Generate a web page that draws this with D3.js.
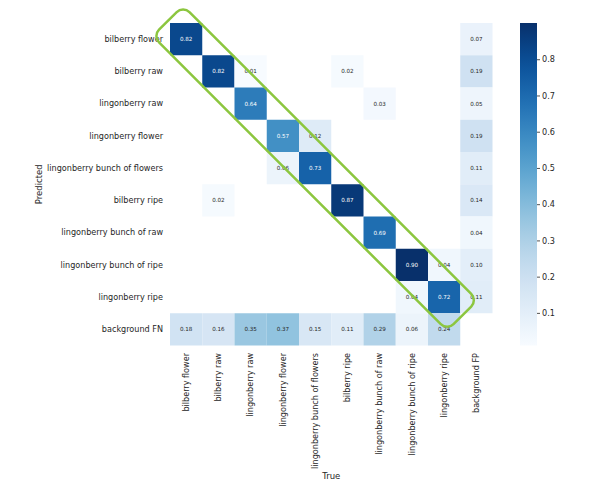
<!DOCTYPE html>
<html>
<head>
<meta charset="utf-8">
<script src="https://cdn.jsdelivr.net/npm/d3@7"></script>
<style>
  html, body { margin: 0; padding: 0; background: #fff; }
  svg { display: block; font-family: "DejaVu Sans", sans-serif; }
</style>
</head>
<body>
<svg id="chart" width="602" height="491"></svg>
<script>
// ---- data ----
const trueLabels = ["bilberry flower", "bilberry raw", "lingonberry raw", "lingonberry flower",
  "lingonberry bunch of flowers", "bilberry ripe", "lingonberry bunch of raw",
  "lingonberry bunch of ripe", "lingonberry ripe", "background FP"];
const predLabels = ["bilberry flower", "bilberry raw", "lingonberry raw", "lingonberry flower",
  "lingonberry bunch of flowers", "bilberry ripe", "lingonberry bunch of raw",
  "lingonberry bunch of ripe", "lingonberry ripe", "background FN"];

const rowBilberryFlower     = [0.82, null, null, null, null, null, null, null, null, 0.07];
const rowBilberryRaw        = [null, 0.82, 0.01, null, null, 0.02, null, null, null, 0.19];
const rowLingonberryRaw     = [null, null, 0.64, null, null, null, 0.03, null, null, 0.05];
const rowLingonberryFlower  = [null, null, null, 0.57, 0.12, null, null, null, null, 0.19];
const rowBunchFlowers       = [null, null, null, 0.06, 0.73, null, null, null, null, 0.11];
const rowBilberryRipe       = [null, 0.02, null, null, null, 0.87, null, null, null, 0.14];
const rowBunchRaw           = [null, null, null, null, null, null, 0.69, null, null, 0.04];
const rowBunchRipe          = [null, null, null, null, null, null, null, 0.90, 0.04, 0.10];
const rowLingonberryRipe    = [null, null, null, null, null, null, null, 0.04, 0.72, 0.11];
const rowBackgroundFN       = [0.18, 0.16, 0.35, 0.37, 0.15, 0.11, 0.29, 0.06, 0.24, null];

const colorbarTicks = [0.1, 0.2, 0.3, 0.4, 0.5, 0.6, 0.7, 0.8];

const matrixRows = [rowBilberryFlower, rowBilberryRaw, rowLingonberryRaw, rowLingonberryFlower,
  rowBunchFlowers, rowBilberryRipe, rowBunchRaw, rowBunchRipe, rowLingonberryRipe, rowBackgroundFN];

// ---- layout ----
const svg = d3.select("#chart");
const gx0 = 170, gx1 = 492.5, gy0 = 23, gy1 = 345.5;

const x = d3.scaleBand().domain(trueLabels).range([gx0, gx1]);
const y = d3.scaleBand().domain(predLabels).range([gy0, gy1]);

const allVals = matrixRows.flat().filter(v => v != null);
const vmin = d3.min(allVals), vmax = d3.max(allVals);
const color = d3.scaleSequential(d3.interpolateBlues).domain([vmin, vmax]);

function luminance(c) {
  const rgb = d3.rgb(c);
  const f = v => { v /= 255; return v <= 0.03928 ? v / 12.92 : Math.pow((v + 0.055) / 1.055, 2.4); };
  return 0.2126 * f(rgb.r) + 0.7152 * f(rgb.g) + 0.0722 * f(rgb.b);
}

const cells = [];
matrixRows.forEach((row, i) => row.forEach((v, j) => {
  if (v != null) cells.push({ r: predLabels[i], c: trueLabels[j], v });
}));

const gCells = svg.append("g");
gCells.selectAll("rect").data(cells).join("rect")
  .attr("x", d => x(d.c)).attr("y", d => y(d.r))
  .attr("width", x.bandwidth()).attr("height", y.bandwidth())
  .attr("fill", d => color(d.v));

gCells.selectAll("text").data(cells).join("text")
  .attr("x", d => x(d.c) + x.bandwidth() / 2)
  .attr("y", d => y(d.r) + y.bandwidth() / 2)
  .attr("dy", "0.35em")
  .attr("text-anchor", "middle")
  .attr("font-size", 5.6)
  .attr("fill", d => luminance(color(d.v)) > 0.408 ? "#262626" : "#ffffff")
  .text(d => d3.format(".2f")(d.v));

// y tick labels
svg.append("g").selectAll("text").data(predLabels).join("text")
  .attr("x", 163)
  .attr("y", d => y(d) + y.bandwidth() / 2)
  .attr("dy", "0.35em")
  .attr("text-anchor", "end")
  .attr("font-size", 8.1)
  .attr("fill", "#262626")
  .text(d => d);

// x tick labels
svg.append("g").selectAll("text").data(trueLabels).join("text")
  .attr("transform", d => `translate(${x(d) + x.bandwidth() / 2},353) rotate(-90)`)
  .attr("dy", "0.35em")
  .attr("text-anchor", "end")
  .attr("font-size", 8.1)
  .attr("fill", "#262626")
  .text(d => d);

// axis titles
svg.append("text")
  .attr("x", (gx0 + gx1) / 2).attr("y", 479)
  .attr("text-anchor", "middle").attr("font-size", 8.5).attr("fill", "#262626")
  .text("True");
svg.append("text")
  .attr("transform", `translate(42,${(gy0 + gy1) / 2}) rotate(-90)`)
  .attr("text-anchor", "middle").attr("font-size", 8.5).attr("fill", "#262626")
  .text("Predicted");

// colorbar
const cbx = 520, cbw = 17;
const cby = d3.scaleLinear().domain([vmin, vmax]).range([gy1, gy0]);
const defs = svg.append("defs");
const grad = defs.append("linearGradient").attr("id", "cbgrad")
  .attr("x1", 0).attr("y1", 1).attr("x2", 0).attr("y2", 0);
d3.range(0, 1.0001, 0.05).forEach(t => {
  grad.append("stop").attr("offset", t).attr("stop-color", d3.interpolateBlues(t));
});
svg.append("rect").attr("x", cbx).attr("y", gy0).attr("width", cbw).attr("height", gy1 - gy0)
  .attr("fill", "url(#cbgrad)");
const cbAxis = d3.axisRight(cby).tickValues(colorbarTicks).tickSize(3).tickPadding(2).tickFormat(d3.format(".1f"));
const cbg = svg.append("g").attr("transform", `translate(${cbx + cbw},0)`).call(cbAxis);
cbg.select(".domain").remove();
cbg.selectAll(".tick line").attr("stroke", "#262626").attr("stroke-width", 0.8);
cbg.selectAll(".tick text").attr("font-size", 8.1).attr("fill", "#262626")
  .attr("font-family", "DejaVu Sans, sans-serif");

// green highlight around diagonal
const p0 = [x(trueLabels[0]), y(predLabels[0])];
const p1 = [x(trueLabels[8]) + x.bandwidth(), y(predLabels[8]) + y.bandwidth()];
const len = Math.hypot(p1[0] - p0[0], p1[1] - p0[1]);
const halfW = 21.5, ext = 3;
svg.append("g").attr("transform", `translate(${p0[0]},${p0[1]}) rotate(45)`)
  .append("rect")
  .attr("x", -ext).attr("y", -halfW)
  .attr("width", len + 2 * ext).attr("height", 2 * halfW)
  .attr("rx", 9).attr("ry", 9)
  .attr("fill", "none").attr("stroke", "#8cc63f").attr("stroke-width", 2.5);
</script>
</body>
</html>
